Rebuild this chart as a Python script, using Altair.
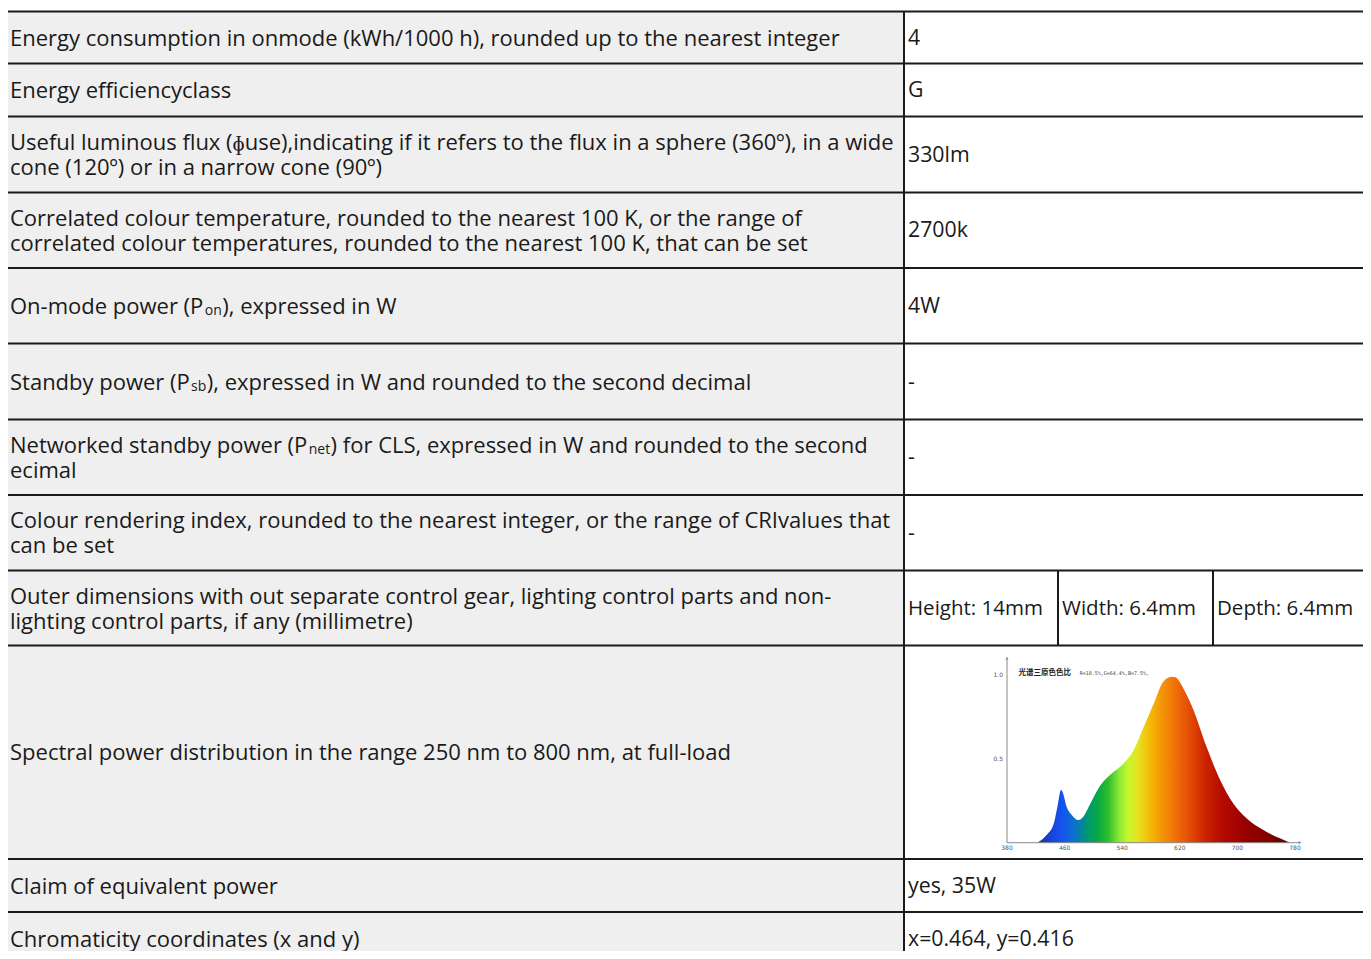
import altair as alt
import pandas as pd

# ---------------- data ----------------
label_lines = [
    ["Energy consumption in onmode (kWh/1000 h), rounded up to the nearest integer"],
    ["Energy efficiencyclass"],
    ["Useful luminous flux (ɸuse),indicating if it refers to the flux in a sphere (360º), in a wide",
     "cone (120º) or in a narrow cone (90º)"],
    ["Correlated colour temperature, rounded to the nearest 100 K, or the range of",
     "correlated colour temperatures, rounded to the nearest 100 K, that can be set"],
    ["On-mode power (P|on|), expressed in W"],
    ["Standby power (P|sb|), expressed in W and rounded to the second decimal"],
    ["Networked standby power (P|net|) for CLS, expressed in W and rounded to the second",
     "ecimal"],
    ["Colour rendering index, rounded to the nearest integer, or the range of CRIvalues that",
     "can be set"],
    ["Outer dimensions with out separate control gear, lighting control parts and non-",
     "lighting control parts, if any (millimetre)"],
    ["Spectral power distribution in the range 250 nm to 800 nm, at full-load"],
    ["Claim of equivalent power"],
    ["Chromaticity coordinates (x and y)"],
]
value_texts = ["4", "G", "330lm", "2700k", "4W", "-", "-", "-", None, None, "yes, 35W", "x=0.464, y=0.416"]
dim_values = ["Height: 14mm", "Width: 6.4mm", "Depth: 6.4mm"]

spd_nm = [422, 435, 445, 450, 455, 458, 462, 470, 479, 486, 496, 510, 523, 542, 556,
          570, 584, 597, 609, 614, 625, 639, 657, 676, 694, 713, 736, 759, 773]
spd_rel = [0.0, 0.046, 0.115, 0.215, 0.314, 0.294, 0.225, 0.165, 0.135, 0.155, 0.235, 0.344,
           0.404, 0.473, 0.553, 0.692, 0.831, 0.960, 0.990, 0.986, 0.920, 0.791, 0.573, 0.374,
           0.235, 0.145, 0.076, 0.026, 0.0]
spd_x_ticks = [380, 460, 540, 620, 700, 780]
spd_y_ticks = [0.5, 1.0]
spd_title_cn = "光谱三原色色比"
spd_title_ratio = "R=18.5%,G=64.4%,B=7.5%,"

# ---------------- layout / style ----------------
W, H, OFF = 1355, 943, 8
row_edges = [11.5, 63.5, 116.5, 192.5, 268, 343.5, 419.5, 495, 570.5, 645.5, 859, 912, 966]
COL_L, COL_SEP, COL_R = 7, 904, 1369
DIM_ROW = 8
DIM_SEPS = [1058, 1213]
DIM_TEXT_X = [908, 1062, 1217]
TEXT_X_L, TEXT_X_V = 10, 908
LINE_GAP = 25
FONT = "Open Sans"
FS, VAL_FS, DIM_FS, SUB_FS = 22, 21.3, 20.5, 14
TEXT_DY = 1
# x of subscript and of the rest of the line, fitted to the font's widths
sub_pos = {4: (204.8, 222.3), 5: (191.0, 206.8), 6: (308.7, 330.6)}
GREY = "#efefef"
INK = "#1a1a1a"

grad_nm = [422, 440, 458, 475, 490, 505, 520, 535, 548, 562, 578, 595, 612, 635, 655, 680, 710, 745, 773]
grad_colors = ["#1f2f9e", "#1840d8", "#1456f0", "#0a74c8", "#00947a", "#05a848", "#2cbc2c", "#86e838",
               "#c4f82c", "#e8e020", "#f4bc08", "#f49606", "#f07408", "#e24a04", "#cc2400", "#b40a02",
               "#9a0000", "#800000", "#640000"]

# spectrum inset mapping (reference pixels)
SPX0, SPK = 1007.0, 0.72        # pixel of 380 nm, px per nm
SPY0, SPV = 842.7, 167.7        # pixel of 0, px per unit

# ---------------- scales ----------------
TX = alt.Scale(domain=[OFF, OFF + W], nice=False, zero=False)
TY = alt.Scale(domain=[OFF, OFF + H], reverse=True, nice=False, zero=False)
SX = alt.Scale(domain=[380 + (OFF - SPX0) / SPK, 380 + (OFF + W - SPX0) / SPK], nice=False, zero=False)
SY = alt.Scale(domain=[(SPY0 - (OFF + H)) / SPV, (SPY0 - OFF) / SPV], nice=False, zero=False)


def tx(f):
    return alt.X(f"{f}:Q", scale=TX, axis=None)


def ty(f):
    return alt.Y(f"{f}:Q", scale=TY, axis=None)


def sx(f):
    return alt.X(f"{f}:Q", scale=SX, axis=None)


def sy(f):
    return alt.Y(f"{f}:Q", scale=SY, axis=None)


# ---------------- table pieces ----------------
texts = []
for i, lines in enumerate(label_lines):
    cy = (row_edges[i] + row_edges[i + 1]) / 2
    n = len(lines)
    for j, line in enumerate(lines):
        y = cy + (j - (n - 1) / 2) * LINE_GAP
        if "|" in line:
            a, sub, b = line.split("|")
            px_sub, px_rest = sub_pos[i]
            texts.append(dict(t=a, x=TEXT_X_L, y=y, fs=FS))
            texts.append(dict(t=sub, x=px_sub, y=y + 4, fs=SUB_FS))
            texts.append(dict(t=b, x=px_rest, y=y, fs=FS))
        else:
            texts.append(dict(t=line, x=TEXT_X_L, y=y, fs=FS))
    if value_texts[i] is not None:
        texts.append(dict(t=value_texts[i], x=TEXT_X_V, y=cy, fs=VAL_FS))
    if i == DIM_ROW:
        for xv, tv in zip(DIM_TEXT_X, dim_values):
            texts.append(dict(t=tv, x=xv, y=cy, fs=DIM_FS))
text_df = pd.DataFrame(texts)

bg_df = pd.DataFrame([dict(x=COL_L, x2=COL_SEP, y=row_edges[0], y2=row_edges[-1])])
hrule_df = pd.DataFrame([dict(x=COL_L, x2=COL_R, y=e) for e in row_edges[:-1]])
vrule_df = pd.DataFrame(
    [dict(x=COL_SEP, y=row_edges[0], y2=row_edges[-1])]
    + [dict(x=d, y=row_edges[DIM_ROW], y2=row_edges[DIM_ROW + 1]) for d in DIM_SEPS]
)

bg = alt.Chart(bg_df).mark_rect(color=GREY).encode(x=tx("x"), x2="x2:Q", y=ty("y"), y2="y2:Q")
hrules = alt.Chart(hrule_df).mark_rule(color=INK, strokeWidth=2).encode(x=tx("x"), x2="x2:Q", y=ty("y"))
vrules = alt.Chart(vrule_df).mark_rule(color=INK, strokeWidth=2).encode(x=tx("x"), y=ty("y"), y2="y2:Q")
text_layer = alt.Chart(text_df).mark_text(
    align="left", baseline="middle", font=FONT, color=INK, dy=TEXT_DY
).encode(x=tx("x"), y=ty("y"), text="t:N", size=alt.Size("fs:Q", scale=None))

# ---------------- spectrum inset ----------------
spd_df = pd.DataFrame({"nm": spd_nm, "v": spd_rel})
span = spd_nm[-1] - spd_nm[0]
grad = alt.Gradient(
    gradient="linear",
    stops=[alt.GradientStop(color=c, offset=max(0.0, min(1.0, (w - spd_nm[0]) / span)))
           for w, c in zip(grad_nm, grad_colors)],
    x1=0, x2=1, y1=0, y2=0,
)
area = alt.Chart(spd_df).mark_area(interpolate="monotone", color=grad, orient="vertical").encode(
    x=sx("nm"), y=sy("v")
)

axes_df = pd.DataFrame([
    dict(nm=380, nm2=380, v=0, v2=1.1),
    dict(nm=380, nm2=787, v=0, v2=0),
])
axis_lines = alt.Chart(axes_df).mark_rule(color="#8a8a8a", strokeWidth=1).encode(
    x=sx("nm"), x2="nm2:Q", y=sy("v"), y2="v2:Q"
)
arrow_df = pd.DataFrame([dict(nm=380, v=1.1, s="triangle-up"), dict(nm=787, v=0, s="triangle-right")])
arrows = alt.Chart(arrow_df).mark_point(filled=True, size=10, color="#8a8a8a", opacity=1).encode(
    x=sx("nm"), y=sy("v"), shape=alt.Shape("s:N", scale=None)
)
xt_df = pd.DataFrame({"nm": spd_x_ticks, "v": [0] * len(spd_x_ticks), "t": [str(t) for t in spd_x_ticks]})
xticks = alt.Chart(xt_df).mark_text(fontSize=6, dy=5, color="#555", font="DejaVu Sans").encode(
    x=sx("nm"), y=sy("v"), text="t:N"
)
yt_df = pd.DataFrame({"nm": [380] * len(spd_y_ticks), "v": spd_y_ticks, "t": [f"{t:.1f}" for t in spd_y_ticks]})
yticks = alt.Chart(yt_df).mark_text(fontSize=6, dx=-4, align="right", color="#555", font="DejaVu Sans").encode(
    x=sx("nm"), y=sy("v"), text="t:N"
)
title_df = pd.DataFrame([dict(nm=396, v=1.01, t=spd_title_cn)])
ratio_df = pd.DataFrame([dict(nm=481, v=1.01, t=spd_title_ratio)])
title_cn = alt.Chart(title_df).mark_text(
    align="left", baseline="middle", fontWeight="bold", fontSize=7.5, font="Noto Sans CJK SC", color="#222"
).encode(x=sx("nm"), y=sy("v"), text="t:N")
title_ratio = alt.Chart(ratio_df).mark_text(
    align="left", baseline="middle", fontSize=5, font="DejaVu Sans Mono", color="#444"
).encode(x=sx("nm"), y=sy("v"), text="t:N")

chart = alt.layer(
    bg, area, axis_lines, arrows, xticks, yticks, title_cn, title_ratio, hrules, vrules, text_layer
).resolve_scale(x="independent", y="independent").properties(
    width=W, height=H, padding=0, autosize=alt.AutoSizeParams(type="none")
).configure_view(stroke=None)

chart.save("out.html", embed_options={"renderer": "svg", "actions": False})
